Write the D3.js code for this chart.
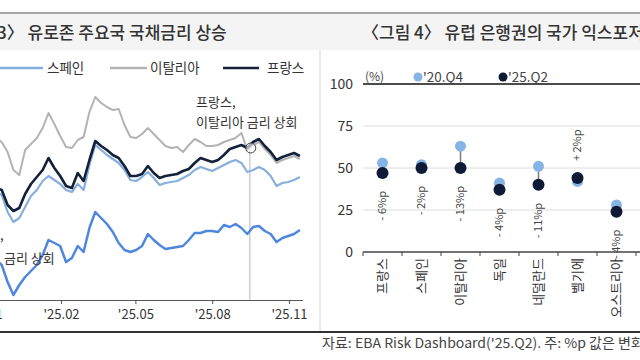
<!DOCTYPE html>
<html><head><meta charset="utf-8">
<script src="https://cdn.jsdelivr.net/npm/d3@7"></script>
<style>
body{margin:0;background:#fff;}
svg{display:block;font-family:"Noto Sans CJK KR","Noto Sans",sans-serif;}
</style></head><body>
<svg id="c" width="640" height="360"></svg>
<script>
// ---------- Left chart data (weekly, 10Y yields, %) ----------
const dates = ["2024-11-01","2024-11-08","2024-11-15","2024-11-22","2024-11-29","2024-12-06","2024-12-13","2024-12-20","2024-12-27",
"2025-01-03","2025-01-10","2025-01-17","2025-01-24","2025-01-31","2025-02-07","2025-02-14","2025-02-21","2025-02-28",
"2025-03-07","2025-03-14","2025-03-21","2025-03-28","2025-04-04","2025-04-11","2025-04-18","2025-04-25",
"2025-05-02","2025-05-09","2025-05-16","2025-05-23","2025-05-30","2025-06-06","2025-06-13","2025-06-20","2025-06-27",
"2025-07-04","2025-07-11","2025-07-18","2025-07-25","2025-08-01","2025-08-08","2025-08-15","2025-08-22","2025-08-29",
"2025-09-05","2025-09-12","2025-09-19","2025-09-26","2025-10-03","2025-10-10","2025-10-17","2025-10-24","2025-10-31",
"2025-11-07","2025-11-14"];
const italy = [3.62,3.60,3.62,3.58,3.48,3.30,3.25,3.50,3.56,3.62,3.72,3.87,3.76,3.64,3.53,3.52,3.60,3.63,
3.88,4.03,3.97,3.93,3.90,3.91,3.75,3.63,3.62,3.66,3.72,3.66,3.60,3.54,3.52,3.53,3.48,
3.55,3.61,3.58,3.54,3.54,3.55,3.58,3.60,3.62,3.67,3.50,3.55,3.58,3.51,3.45,3.37,3.40,3.42,3.44,3.41];
const france = [3.15,3.14,3.12,3.10,2.95,2.89,2.92,3.06,3.16,3.23,3.30,3.42,3.32,3.24,3.14,3.12,3.27,3.19,
3.40,3.59,3.54,3.50,3.45,3.42,3.34,3.24,3.24,3.26,3.34,3.27,3.22,3.24,3.25,3.26,3.29,
3.31,3.37,3.42,3.40,3.38,3.40,3.45,3.51,3.53,3.55,3.52,3.58,3.61,3.54,3.48,3.40,3.43,3.45,3.47,3.44];
const spain = [3.10,3.09,3.08,3.05,2.88,2.78,2.82,2.93,3.04,3.10,3.19,3.24,3.20,3.16,3.10,3.08,3.16,3.10,
3.35,3.55,3.50,3.45,3.41,3.37,3.30,3.20,3.19,3.23,3.28,3.22,3.15,3.17,3.18,3.19,3.22,
3.25,3.30,3.33,3.31,3.29,3.32,3.35,3.38,3.40,3.37,3.28,3.30,3.33,3.30,3.24,3.14,3.17,3.18,3.20,3.23];
const germany = [2.42,2.42,2.40,2.35,2.18,2.05,2.15,2.23,2.29,2.35,2.45,2.60,2.57,2.54,2.38,2.42,2.54,2.48,
2.72,2.88,2.82,2.76,2.68,2.57,2.50,2.48,2.50,2.54,2.66,2.60,2.55,2.51,2.52,2.53,2.54,
2.60,2.67,2.67,2.69,2.69,2.68,2.75,2.73,2.76,2.72,2.66,2.73,2.74,2.69,2.66,2.58,2.62,2.64,2.66,2.70];
const xTicks = ["2024-11-01","2025-02-01","2025-05-01","2025-08-01","2025-11-01"];
const markerDate = "2025-09-15";

// ---------- Right chart data ----------
const countries = ["프랑스","스페인","이탈리아","독일","네덜란드","벨기에","오스트리아"];
const q2020 = [53,52,63,41,51,42,28];
const q2025 = [47,50,50,37,40,44,24];
const yTicksR = [0,25,50,75,100];

const parse = d3.timeParse("%Y-%m-%d");
const svg = d3.select("#c");

// frame
svg.append("rect").attr("x",0).attr("y",14).attr("width",640).attr("height",36).attr("fill","#f4f4f4");
svg.append("line").attr("x1",0).attr("x2",640).attr("y1",13).attr("y2",13).attr("stroke","#a6a6a6").attr("stroke-width",2);
svg.append("line").attr("x1",320).attr("x2",320).attr("y1",50).attr("y2",331).attr("stroke","#d4d4d4").attr("stroke-width",1);
svg.append("line").attr("x1",0).attr("x2",640).attr("y1",332).attr("y2",332).attr("stroke","#333").attr("stroke-width",2);

svg.append("text").attr("x",-3).attr("y",39).attr("font-size",17).attr("font-weight",500).attr("fill","#333")
  .text("3〉 유로존 주요국 국채금리 상승");
svg.append("text").attr("x",362).attr("y",39).attr("font-size",17).attr("font-weight",500).attr("fill","#333")
  .text("〈그림 4〉 유럽 은행권의 국가 익스포저");

// ---------- Left chart ----------
const x = d3.scaleTime().domain([parse("2024-11-01"), parse("2025-11-17")]).range([-15.8, 302.4]);
const y = d3.scaleLinear().domain([2.0, 4.4]).range([300, 60]);

const gx = svg.append("g").attr("transform","translate(0,300)")
  .call(d3.axisBottom(x).tickValues(xTicks.map(parse)).tickFormat(d3.timeFormat("'%y.%m")).tickSize(4).tickSizeOuter(0));
gx.select(".domain").attr("stroke","#555");
gx.selectAll(".tick line").attr("stroke","#555");
gx.selectAll(".tick text").attr("font-size",13).attr("fill","#333").attr("dy","0.95em")
  .attr("font-family","'Noto Sans CJK KR',sans-serif");

const xm = x(parse(markerDate));
svg.append("line").attr("x1",xm).attr("x2",xm).attr("y1",y(3.52)).attr("y2",300).attr("stroke","#cfcfcf").attr("stroke-width",1.5);

const series = [
  {name:"이탈리아", vals:italy, color:"#b3b3b3", w:2},
  {name:"독일", vals:germany, color:"#4f86de", w:2.5},
  {name:"스페인", vals:spain, color:"#86aede", w:2.2},
  {name:"프랑스", vals:france, color:"#14213a", w:2.6}
];
const line = d3.line().x((d,i)=>x(parse(dates[i]))).y(d=>y(d)).curve(d3.curveLinear);
series.forEach(s=>{
  svg.append("path").datum(s.vals).attr("d",line).attr("fill","none")
    .attr("stroke",s.color).attr("stroke-width",s.w).attr("stroke-linejoin","round");
});
svg.append("circle").attr("cx",xm+1).attr("cy",y(3.52)).attr("r",5).attr("fill","#fff").attr("fill-opacity",0.6)
  .attr("stroke","#444").attr("stroke-width",1);

// legend
const leg = [{name:"스페인",color:"#86aede",x0:0,x1:43,tx:47},{name:"이탈리아",color:"#b3b3b3",x0:110,x1:147,tx:150},{name:"프랑스",color:"#14213a",x0:223,x1:259,tx:267}];
leg.forEach(l=>{
  svg.append("line").attr("x1",l.x0).attr("x2",l.x1).attr("y1",68).attr("y2",68).attr("stroke",l.color).attr("stroke-width",2.5);
  svg.append("text").attr("x",l.tx).attr("y",73).attr("font-size",13.5).attr("fill","#333").text(l.name);
});

// annotations
svg.append("text").attr("x",196).attr("y",107).attr("font-size",13).attr("fill","#333").text("프랑스,");
svg.append("text").attr("x",196).attr("y",127).attr("font-size",13).attr("fill","#333").text("이탈리아 금리 상회");
svg.append("text").attr("x",0).attr("y",240).attr("font-size",13).attr("fill","#333").text(",");
svg.append("text").attr("x",4).attr("y",263).attr("font-size",13).attr("fill","#333").text("금리 상회");

// ---------- Right chart ----------
const xr = d3.scaleBand().domain(countries).range([363, 636]);
const yr = d3.scaleLinear().domain([0,100]).range([252, 84]);

yTicksR.forEach(t=>{
  if(t>0 && t<100){
    svg.append("line").attr("x1",363).attr("x2",640).attr("y1",yr(t)).attr("y2",yr(t)).attr("stroke","#dcdcdc").attr("stroke-width",1);
  }
  svg.append("text").attr("x",353).attr("y",yr(t)).attr("dy","0.35em").attr("text-anchor","end")
    .attr("font-size",14).attr("fill","#333").text(t);
});
svg.append("line").attr("x1",363).attr("x2",640).attr("y1",yr(100)).attr("y2",yr(100)).attr("stroke","#111").attr("stroke-width",1.5);
svg.append("line").attr("x1",363).attr("x2",640).attr("y1",yr(0)).attr("y2",yr(0)).attr("stroke","#444").attr("stroke-width",1.5);
const bounds = countries.map(c=>xr(c)).concat([xr.range()[1]]);
bounds.forEach(b=>{
  svg.append("line").attr("x1",b).attr("x2",b).attr("y1",yr(0)).attr("y2",yr(0)+4).attr("stroke","#444").attr("stroke-width",1);
});

countries.forEach((c,i)=>{
  const cx = xr(c)+xr.bandwidth()/2;
  const a = q2020[i], b = q2025[i];
  svg.append("line").attr("x1",cx).attr("x2",cx).attr("y1",yr(a)).attr("y2",yr(b)).attr("stroke","#7a7a7a").attr("stroke-width",1.5);
  svg.append("circle").attr("cx",cx).attr("cy",yr(a)).attr("r",5.5).attr("fill","#86b4e4");
  svg.append("circle").attr("cx",cx).attr("cy",yr(b)).attr("r",6).attr("fill","#0e1a36");
  const diff = b - a;
  const lab = (diff>0?"+ ":"- ")+Math.abs(diff)+"%p";
  let ly, anchor;
  if(diff<0){ ly = yr(Math.min(a,b))+18; anchor="end"; } else { ly = yr(Math.max(a,b))-17; anchor="start"; }
  svg.append("text").attr("transform",`translate(${cx},${ly}) rotate(-90)`).attr("text-anchor",anchor)
    .attr("dy","0.35em").attr("font-size",11).attr("fill","#444").text(lab);
  svg.append("text").attr("transform",`translate(${cx},258) rotate(-90)`).attr("text-anchor","end")
    .attr("dy","0.35em").attr("font-size",13).attr("fill","#333").text(c);
});

// legend right
svg.append("text").attr("x",365).attr("y",81).attr("font-size",12).attr("fill","#444").text("(%)");
svg.append("circle").attr("cx",418).attr("cy",77).attr("r",4.5).attr("fill","#86b4e4");
svg.append("text").attr("x",423).attr("y",82).attr("font-size",13.5).attr("fill","#444").text("'20.Q4");
svg.append("circle").attr("cx",503).attr("cy",77).attr("r",4.5).attr("fill","#0e1a36");
svg.append("text").attr("x",508).attr("y",82).attr("font-size",13.5).attr("fill","#444").text("'25.Q2");

// footer
svg.append("text").attr("x",322).attr("y",348).attr("font-size",13.5).attr("textLength",322).attr("lengthAdjust","spacingAndGlyphs").attr("fill","#444")
  .text("자료: EBA Risk Dashboard('25.Q2). 주: %p 값은 변화");
</script>
</body></html>
